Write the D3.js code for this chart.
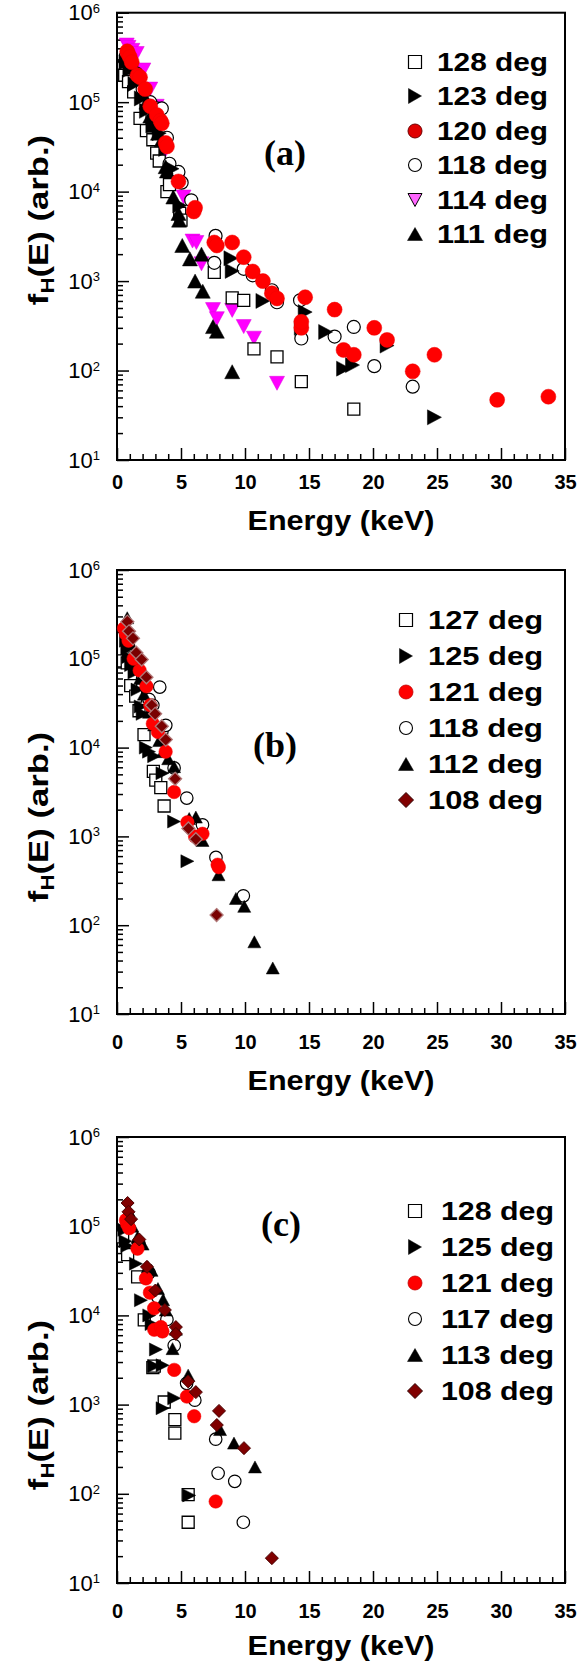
<!DOCTYPE html>
<html><head><meta charset="utf-8">
<script src="https://cdn.jsdelivr.net/npm/d3@7"></script>
<style>html,body{margin:0;padding:0;background:#fff;} svg{display:block;}</style>
</head><body>
<svg id="chart" width="587" height="1662"></svg>
<script>
// ---------- data ----------
const xTicks = [0, 5, 10, 15, 20, 25, 30, 35];
const yDecades = [1e1, 1e2, 1e3, 1e4, 1e5, 1e6];
const panelLabels = ["(a)", "(b)", "(c)"];
const legendA = ["128 deg", "123 deg", "120 deg", "118 deg", "114 deg", "111 deg"];
const legendB = ["127 deg", "125 deg", "121 deg", "118 deg", "112 deg", "108 deg"];
const legendC = ["128 deg", "125 deg", "121 deg", "117 deg", "113 deg", "108 deg"];

// panel (a)  [energy keV, f_H(E)]
const a128 = [[0.6,200000],[0.9,170000],[1.3,130000],[1.8,66000],[2.3,48000],[2.8,38000],[3.1,27000],[3.3,22000],[3.9,10000],[4.1,12000],[4.9,5700],[5.0,4800],[7.6,1250],[9.0,650],[9.9,610],[10.7,175],[12.5,142],[14.4,75],[18.5,37]];
const a123 = [[0.7,280000],[1.0,230000],[1.4,160000],[1.9,110000],[2.3,80000],[2.8,55000],[3.3,45000],[3.8,30000],[4.3,18000],[4.9,7000],[8.9,1800],[9.0,1300],[11.4,600],[14.4,300],[14.7,450],[16.3,270],[17.7,105],[18.4,115],[21.1,190],[24.8,30]];
const a120 = [[0.8,370000],[0.85,350000],[1.0,320000],[1.15,280000],[1.6,200000],[1.8,190000],[2.2,140000],[2.6,90000],[3.1,72000],[3.4,62000],[3.5,58000],[3.8,35000],[3.9,32000],[4.8,13000],[6.0,6000],[6.1,6600],[7.6,2700],[7.8,2500],[9.0,2700],[9.9,1850],[10.6,1280],[11.4,1000],[12.1,730],[12.5,640],[14.4,300],[14.4,350],[14.7,660],[17.0,480],[17.7,170],[18.5,150],[20.1,300],[21.1,220],[23.1,98],[24.8,150],[29.7,47],[33.7,51]];
const a118 = [[0.7,330000],[1.1,260000],[1.5,210000],[2.0,140000],[2.6,100000],[3.1,85000],[3.5,85000],[3.9,40000],[4.1,20500],[4.8,16600],[5.05,12600],[5.8,8000],[7.7,3200],[7.6,1600],[9.9,1370],[10.6,1160],[12.1,790],[12.5,580],[14.3,610],[14.4,228],[17.0,240],[18.5,307],[20.1,112],[23.1,66]];
const a114 = [[0.76,435000],[0.9,410000],[1.2,380000],[1.54,350000],[2.06,229000],[2.6,140000],[3.1,90000],[3.6,26000],[4.7,13000],[5.2,8700],[5.9,2800],[6.2,2700],[6.6,1560],[7.5,480],[7.8,380],[9.0,470],[9.9,310],[10.7,230],[12.5,72]];
const a111 = [[0.6,330000],[0.8,290000],[1.1,245000],[1.5,190000],[2.0,125000],[2.3,100000],[2.6,70000],[2.9,55000],[3.2,45000],[3.5,38000],[3.8,19000],[3.9,17000],[4.4,8700],[4.8,5700],[4.85,4800],[5.1,2500],[5.7,1770],[6.6,2000],[6.1,1000],[6.7,770],[7.5,310],[7.8,275],[9.0,97]];

// panel (b)
const b127 = [[0.5,95000],[0.8,90000],[1.07,50000],[1.46,38000],[1.72,26000],[2.11,14000],[2.84,5400],[3.03,4300],[3.42,3550],[3.68,2200]];
const b125 = [[0.7,160000],[0.8,130000],[0.9,105000],[1.1,85000],[1.36,70000],[1.6,45000],[1.85,29000],[2.0,24000],[2.25,10000],[2.5,9000],[2.9,8000],[3.55,5150],[4.46,1470],[5.5,525]];
const b121 = [[0.55,220000],[0.7,190000],[0.9,160000],[1.3,100000],[1.77,74000],[2.3,49000],[2.6,30000],[2.8,18600],[3.2,15000],[3.8,9000],[4.46,3160],[5.5,1440],[6.1,1000],[6.68,1070],[7.86,480],[7.95,450]];
const b118 = [[0.9,140000],[1.5,90000],[2.0,60000],[2.5,35000],[2.8,30000],[3.34,48000],[3.5,15000],[3.81,17800],[4.46,5900],[5.45,2700],[6.68,1350],[7.73,580],[9.87,214]];
const b112 = [[0.8,290000],[0.9,200000],[1.0,150000],[1.2,110000],[1.5,80000],[1.8,60000],[2.1,40000],[2.5,25000],[2.9,18000],[3.3,12000],[3.6,9000],[4.0,7500],[4.46,6100],[5.64,1590],[6.16,1650],[6.68,900],[7.93,370],[9.29,200],[9.94,163],[10.73,65],[12.17,33]];
const b108 = [[0.81,262000],[0.94,204000],[1.25,170000],[1.51,117000],[1.93,98000],[2.3,62000],[2.72,30000],[2.98,24000],[3.5,17400],[3.81,12300],[4.54,4450],[5.58,1230],[6.16,930],[7.78,130]];

// panel (c)
const c128 = [[0.44,76000],[0.83,48000],[1.61,27000],[2.13,8900],[2.8,2600],[2.91,2700],[3.69,1070],[4.52,680],[4.52,480],[5.56,98],[5.56,48]];
const c125 = [[0.57,91000],[0.66,68000],[0.8,60000],[1.48,38000],[1.87,14800],[2.52,10000],[2.7,8000],[2.9,2700],[3.04,4150],[3.56,2760],[3.56,910],[4.47,1180],[5.64,96]];
const c121 = [[0.7,117000],[0.8,105000],[0.95,95000],[1.6,56000],[2.26,26000],[2.57,18000],[2.9,12000],[2.91,6900],[3.43,7400],[3.55,6600],[4.47,2450],[5.46,1230],[6.03,740],[7.71,82]];
const c117 = [[0.9,120000],[1.7,65000],[2.5,30000],[3.2,16000],[3.9,9000],[4.47,4600],[5.44,1730],[6.08,1120],[7.71,410],[7.9,170],[9.2,138],[9.87,48]];
const c113 = [[0.9,150000],[1.2,100000],[1.6,75000],[2.0,63000],[2.4,35000],[2.7,32000],[3.2,20000],[3.6,15000],[3.82,11500],[4.34,4240],[4.6,7000],[5.56,2140],[8.05,525],[9.14,370],[10.78,200]];
const c108 = [[0.83,182000],[0.9,145000],[1.1,120000],[1.74,71000],[2.34,35000],[3.0,19000],[3.74,11500],[4.6,7400],[4.6,6200],[5.56,1820],[6.16,1380],[7.8,590],[7.97,850],[9.92,325],[12.1,19]];

// ---------- drawing ----------
const SANS = "'Liberation Sans', Arial, Helvetica, sans-serif";
const SERIF = "'Liberation Serif', 'Times New Roman', serif";
const svg = d3.select("#chart");

function shape(type, s) {
  const w = s.w, h = s.h;
  switch (type) {
    case "square": return `M${-w/2},${-h/2}h${w}v${h}h${-w}Z`;
    case "triUp": return `M0,${-h/2}L${w/2},${h/2}L${-w/2},${h/2}Z`;
    case "triDown": return `M0,${h/2}L${w/2},${-h/2}L${-w/2},${-h/2}Z`;
    case "triRight": return `M${w/2},0L${-w/2},${h/2}L${-w/2},${-h/2}Z`;
    case "diamond": return `M0,${-h/2}L${w/2},0L0,${h/2}L${-w/2},0Z`;
    case "circle": {
      const p = d3.path(); p.arc(0, 0, w/2, 0, 2*Math.PI); p.closePath(); return p.toString();
    }
  }
}

const styles = {
  sq:    {type:"square",  w:12, h:12, fill:"#fff", stroke:"#000", sw:1.3},
  triR:  {type:"triRight",w:14, h:15, fill:"#000", stroke:"#000", sw:0.5},
  red:   {type:"circle",  w:15, h:15, fill:"#ff0000", stroke:"#f00000", sw:0.5},
  oc:    {type:"circle",  w:13, h:13, fill:"#fff", stroke:"#000", sw:1.2},
  triD:  {type:"triDown", w:15, h:14, fill:"#ff00ff", stroke:"#dd00dd", sw:0.5},
  triU:  {type:"triUp",   w:15, h:14, fill:"#000", stroke:"#000", sw:0.5},
  sq2:   {type:"square",  w:12, h:12, fill:"#fff", stroke:"#000", sw:1.3},
  triR2: {type:"triRight",w:13, h:13, fill:"#000", stroke:"#000", sw:0.5},
  red2:  {type:"circle",  w:13.5, h:13.5, fill:"#ff0000", stroke:"#f00000", sw:0.5},
  oc2:   {type:"circle",  w:12.5, h:12.5, fill:"#fff", stroke:"#000", sw:1.2},
  triU2: {type:"triUp",   w:13, h:12, fill:"#000", stroke:"#000", sw:0.5},
  diaB:  {type:"diamond", w:13, h:13, fill:"#7a0000", stroke:"#b07878", sw:1.3},
  diaC:  {type:"diamond", w:13, h:13, fill:"#800000", stroke:"#4a0000", sw:1}
};
const legStyles = {
  sq:   {type:"square",  w:13, h:13, fill:"#fff", stroke:"#000", sw:1.2},
  triR: {type:"triRight",w:13, h:15, fill:"#000", stroke:"#000", sw:0.5},
  red:  {type:"circle",  w:14, h:14, fill:"#e00000", stroke:"#700000", sw:1},
  red2: {type:"circle",  w:14, h:14, fill:"#ff0000", stroke:"#c00000", sw:0.8},
  oc:   {type:"circle",  w:13, h:13, fill:"#fff", stroke:"#000", sw:1.1},
  triD: {type:"triDown", w:14, h:13, fill:"#ff66ff", stroke:"#000", sw:1},
  triU: {type:"triUp",   w:15, h:13, fill:"#000", stroke:"#000", sw:0.5},
  dia:  {type:"diamond", w:15, h:15, fill:"#800000", stroke:"#300000", sw:1}
};

const panels = [
  { top:12.7, bottom:460, left:117, right:565, label:panelLabels[0], labelX:285, labelY:165,
    ytitleY:220, tickBase:489, xtitleBase:530,
    legX:415, legTextX:437, legLen:111, legY:[62,96,131,165,200,234], legend:legendA,
    legendSt:["sq","triR","red","oc","triD","triU"],
    series:[[a114,"triD"],[a128,"sq"],[a118,"oc"],[a111,"triU"],[a123,"triR"],[a120,"red"]] },
  { top:570, bottom:1014, left:117, right:565, label:panelLabels[1], labelX:275, labelY:757,
    ytitleY:817, tickBase:1049, xtitleBase:1090,
    legX:406, legTextX:428, legLen:115, legY:[620,656,692,728,764,800], legend:legendB,
    legendSt:["sq","triR","red2","oc","triU","dia"],
    series:[[b127,"sq2"],[b118,"oc2"],[b112,"triU2"],[b125,"triR2"],[b121,"red2"],[b108,"diaB"]] },
  { top:1137, bottom:1583, left:117, right:565, label:panelLabels[2], labelX:281, labelY:1236,
    ytitleY:1405, tickBase:1618, xtitleBase:1655,
    legX:415, legTextX:441, legLen:113, legY:[1211,1247,1283,1319,1355,1391], legend:legendC,
    legendSt:["sq","triR","red2","oc","triU","dia"],
    series:[[c128,"sq2"],[c117,"oc2"],[c113,"triU2"],[c125,"triR2"],[c121,"red2"],[c108,"diaC"]] }
];

panels.forEach(p => {
  const g = svg.append("g");
  const x = d3.scaleLinear().domain([0, 35]).range([p.left, p.right]);
  const y = d3.scaleLog().domain([10, 1e6]).range([p.bottom, p.top]);

  // minor x ticks
  const xMinor = d3.range(0, 36).filter(v => v % 5 !== 0);
  g.append("g").attr("transform", `translate(0,${p.bottom})`)
    .call(d3.axisBottom(x).tickValues(xMinor).tickSize(-6).tickFormat(""))
    .call(a => a.select(".domain").remove())
    .selectAll("line").attr("stroke-width", 1.5);
  // major x ticks + labels
  const gx = g.append("g").attr("transform", `translate(0,${p.bottom})`)
    .call(d3.axisBottom(x).tickValues(xTicks).tickSize(-12)
      .tickPadding(p.tickBase - p.bottom - 0.71*20).tickFormat(d3.format("d")));
  gx.select(".domain").remove();
  gx.selectAll("line").attr("stroke-width", 1.5);
  gx.attr("font-size", 20).attr("font-family", SANS).attr("font-weight", "bold");
  gx.selectAll("text").attr("fill", "#000");

  // minor y ticks
  const yMinor = [];
  [1e1, 1e2, 1e3, 1e4, 1e5].forEach(d => { for (let k = 2; k <= 9; k++) yMinor.push(d * k); });
  g.append("g").attr("transform", `translate(${p.left},0)`)
    .call(d3.axisLeft(y).tickValues(yMinor).tickSize(-6).tickFormat(""))
    .call(a => a.select(".domain").remove())
    .selectAll("line").attr("stroke-width", 1.5);
  const gy = g.append("g").attr("transform", `translate(${p.left},0)`)
    .call(d3.axisLeft(y).tickValues(yDecades).tickSize(-12).tickFormat(""));
  gy.select(".domain").remove();
  gy.selectAll("line").attr("stroke-width", 1.5);

  // y tick labels 10^n
  yDecades.forEach(v => {
    const t = g.append("text")
      .attr("x", p.left - 17).attr("y", y(v) + 7.5)
      .attr("text-anchor", "end").attr("font-family", SANS).attr("fill", "#000");
    t.append("tspan").attr("font-size", 22).text("10");
    t.append("tspan").attr("font-size", 13).attr("dy", -7.5).text(String(Math.round(Math.log10(v))));
  });

  // frame
  g.append("rect").attr("x", p.left).attr("y", p.top)
    .attr("width", p.right - p.left).attr("height", p.bottom - p.top)
    .attr("fill", "none").attr("stroke", "#000").attr("stroke-width", 2);

  // data markers
  p.series.forEach(([data, sk]) => {
    const st = styles[sk];
    g.append("g").selectAll("path").data(data).join("path")
      .attr("d", shape(st.type, st))
      .attr("transform", d => `translate(${x(d[0])},${y(d[1])})`)
      .attr("fill", st.fill).attr("stroke", st.stroke).attr("stroke-width", st.sw);
  });

  // legend
  p.legend.forEach((name, i) => {
    const st = legStyles[p.legendSt[i]];
    g.append("path").attr("d", shape(st.type, st))
      .attr("transform", `translate(${p.legX},${p.legY[i]})`)
      .attr("fill", st.fill).attr("stroke", st.stroke).attr("stroke-width", st.sw);
    g.append("text").attr("x", p.legTextX).attr("y", p.legY[i] + 9)
      .attr("font-family", SANS).attr("font-weight", "bold").attr("font-size", 25)
      .attr("textLength", p.legLen).attr("lengthAdjust", "spacingAndGlyphs")
      .attr("fill", "#000").text(name);
  });

  // panel label
  g.append("text").attr("x", p.labelX).attr("y", p.labelY)
    .attr("text-anchor", "middle").attr("font-family", SERIF).attr("font-weight", "bold")
    .attr("font-size", 36).attr("fill", "#000").text(p.label);

  // x title
  const cx = (p.left + p.right) / 2;
  g.append("text").attr("x", cx - 93.5).attr("y", p.xtitleBase)
    .attr("font-family", SANS).attr("font-weight", "bold").attr("font-size", 27.5)
    .attr("textLength", 187).attr("lengthAdjust", "spacingAndGlyphs")
    .attr("fill", "#000").text("Energy (keV)");

  // y title
  const yt = g.append("text")
    .attr("transform", `translate(48,${p.ytitleY}) rotate(-90) scale(1.24,1)`)
    .attr("text-anchor", "middle").attr("font-family", SANS).attr("font-weight", "bold")
    .attr("font-size", 28).attr("fill", "#000");
  yt.append("tspan").text("f");
  yt.append("tspan").attr("font-size", 18).attr("dy", 6).text("H");
  yt.append("tspan").attr("dy", -6).text("(E) (arb.)");
});
</script>
</body></html>
